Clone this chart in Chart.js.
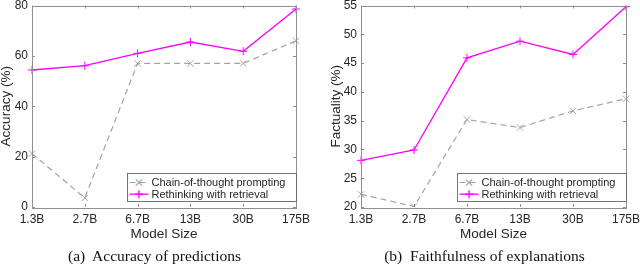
<!DOCTYPE html>
<html>
<head>
<meta charset="utf-8">
<script src="https://cdn.jsdelivr.net/npm/chart.js@4/dist/chart.umd.min.js"></script>
<style>
  html, body { margin: 0; padding: 0; background: #fff; }
  #wrap { position: relative; width: 640px; height: 266px; overflow: hidden; }
  .cv { position: absolute; top: 0; width: 320px; height: 266px; }
  .cap { position: absolute; top: 247px; font-family: "Liberation Serif", "Times New Roman", serif;
         font-size: 15.5px; color: #111; white-space: pre; text-align: center; width: 320px; line-height: 18px; }
</style>
</head>
<body>
<div id="wrap">
  <div class="cv" style="left:0"><canvas id="c1" width="320" height="266"></canvas></div>
  <div class="cv" style="left:320px"><canvas id="c2" width="320" height="266"></canvas></div>
  <div class="cap" id="cap1" style="left:-5.5px">(a)  Accuracy of predictions</div>
  <div class="cap" id="cap2" style="left:324.5px">(b)  Faithfulness of explanations</div>
</div>
<script>
// ---- data ----
const categories = ['1.3B', '2.7B', '6.7B', '13B', '30B', '175B'];
const seriesNames = ['Chain-of-thought prompting', 'Rethinking with retrieval'];
const accuracyCoT = [21.2, 3.6, 57.0, 57.0, 57.0, 66.0];
const accuracyRwR = [54.4, 56.1, 61.0, 65.5, 61.8, 78.6];
const factualityCoT = [22.2, 20.1, 35.2, 33.8, 36.7, 38.8];
const factualityRwR = [28.1, 29.9, 45.9, 48.8, 46.5, 54.8];
const accuracyTicks = [0, 20, 40, 60, 80];
const factualityTicks = [20, 25, 30, 35, 40, 45, 50, 55];
const xTitle = 'Model Size';
const yTitles = ['Accuracy (%)', 'Factuality (%)'];

const FONT = '"Liberation Sans", Arial, Helvetica, sans-serif';
const TXT = '#262626';
const AXIS = '#8f8f8f';
const GRAY = '#a3a3a3';
const MAG = '#ff00ff';

const boxPlugin = {
  id: 'matlabBox',
  afterDraw(chart) {
    const {ctx, chartArea: a, scales} = chart;
    ctx.save();
    ctx.strokeStyle = AXIS;
    ctx.lineWidth = 1;
    ctx.strokeRect(Math.round(a.left) + 0.5, Math.round(a.top) + 0.5,
                   Math.round(a.right - a.left), Math.round(a.bottom - a.top));
    const tl = 3;
    ctx.beginPath();
    scales.x.ticks.forEach((t, i) => {
      const x = Math.round(scales.x.getPixelForTick(i)) + 0.5;
      ctx.moveTo(x, a.bottom); ctx.lineTo(x, a.bottom - tl);
      ctx.moveTo(x, a.top); ctx.lineTo(x, a.top + tl);
    });
    scales.y.ticks.forEach((t, i) => {
      const y = Math.round(scales.y.getPixelForTick(i)) + 0.5;
      ctx.moveTo(a.left, y); ctx.lineTo(a.left + tl, y);
      ctx.moveTo(a.right, y); ctx.lineTo(a.right - tl, y);
    });
    ctx.stroke();

    // legend
    const bw = 169, bh = 28;
    const bx = Math.round(a.right - bw) + 0.5, by = Math.round(a.bottom - 6 - bh) + 0.5;
    ctx.fillStyle = '#fff';
    ctx.fillRect(bx, by, bw, bh);
    ctx.strokeStyle = '#555';
    ctx.lineWidth = 0.8;
    ctx.strokeRect(bx, by, bw, bh);
    ctx.font = '11px ' + FONT;
    ctx.textBaseline = 'middle';
    ctx.textAlign = 'left';
    chart.data.datasets.forEach((ds, i) => {
      const cy = by + 9 + i * 11.7;
      ctx.save();
      ctx.strokeStyle = ds.borderColor;
      ctx.lineWidth = ds.borderWidth;
      ctx.setLineDash(ds.borderDash || []);
      ctx.beginPath();
      ctx.moveTo(bx + 2, cy); ctx.lineTo(bx + 21, cy);
      ctx.stroke();
      ctx.setLineDash([]);
      Chart.helpers.drawPoint(ctx, {pointStyle: ds.pointStyle, radius: ds.pointRadius,
        borderWidth: 1, rotation: 0}, bx + 11.5, cy);
      ctx.restore();
      ctx.fillStyle = TXT;
      ctx.fillText(ds.label, bx + 24, cy + 0.5);
    });
    ctx.restore();
  }
};

function makeChart(id, cot, rwr, ticks, yTitle, yWidth, padRight, yTitlePad) {
  const yMin = ticks[0], yMax = ticks[ticks.length - 1], step = ticks[1] - ticks[0];
  return new Chart(document.getElementById(id), {
    type: 'line',
    data: {
      labels: categories,
      datasets: [
        { label: seriesNames[0], data: cot, borderColor: GRAY, backgroundColor: GRAY,
          borderWidth: 1.2, borderDash: [6, 4], pointStyle: 'crossRot', pointRadius: 4.5,
          pointBorderWidth: 1, pointBorderColor: GRAY, fill: false, tension: 0 },
        { label: seriesNames[1], data: rwr, borderColor: MAG, backgroundColor: MAG,
          borderWidth: 1.3, pointStyle: 'cross', pointRadius: 4,
          pointBorderWidth: 1, pointBorderColor: MAG, fill: false, tension: 0 }
      ]
    },
    options: {
      responsive: false, animation: false, devicePixelRatio: 1,
      layout: { padding: { top: 5, right: padRight, bottom: 23, left: 0 } },
      plugins: { legend: { display: false }, tooltip: { enabled: false } },
      scales: {
        x: {
          type: 'category', offset: false,
          grid: { display: false, drawTicks: false }, border: { display: false },
          ticks: { color: TXT, font: { family: FONT, size: 12 }, padding: 5, maxRotation: 0, autoSkip: false },
          title: { display: true, text: xTitle, color: TXT, font: { family: FONT, size: 13.5, lineHeight: 1 },
                   padding: { top: 0, bottom: 1.5 } },
          afterFit(s) { s.height = 36; s.paddingLeft = 0; s.paddingRight = 0; }
        },
        y: {
          min: yMin, max: yMax,
          grid: { display: false, drawTicks: false }, border: { display: false },
          ticks: { stepSize: step, color: TXT, font: { family: FONT, size: 12 }, padding: 4 },
          title: { display: true, text: yTitle, color: TXT, font: { family: FONT, size: 13.5, lineHeight: 1 },
                   padding: { top: yTitlePad, bottom: 0 } },
          afterFit(s) { s.width = yWidth; s.paddingTop = 0; s.paddingBottom = 0; }
        }
      }
    },
    plugins: [boxPlugin]
  });
}

makeChart('c1', accuracyCoT, accuracyRwR, accuracyTicks, yTitles[0], 32, 24, 0);
makeChart('c2', factualityCoT, factualityRwR, factualityTicks, yTitles[1], 41, 14, 10);
</script>
</body>
</html>
